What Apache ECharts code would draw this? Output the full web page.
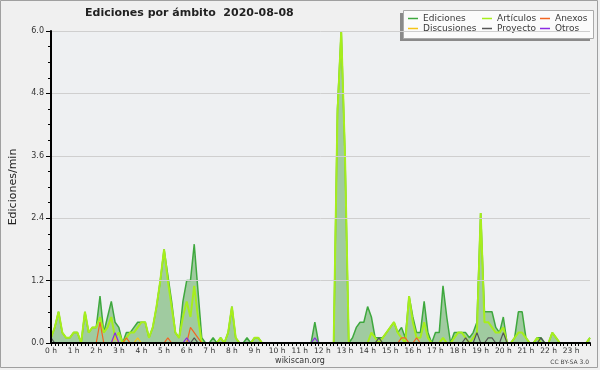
<!DOCTYPE html>
<html><head><meta charset="utf-8">
<script src="https://cdn.jsdelivr.net/npm/echarts@6/dist/echarts.min.js"></script>
<style>html,body{margin:0;padding:0;background:#f0f0f0;}#c{width:600px;height:370px;}</style>
</head><body><div id="c"></div>
<script>
// hour tick labels (one every 6 ten-minute slots)
const hourLabels = ['0 h','1 h','2 h','3 h','4 h','5 h','6 h','7 h','8 h','9 h','10 h','11 h',
  '12 h','13 h','14 h','15 h','16 h','17 h','18 h','19 h','20 h','21 h','22 h','23 h'];
const yTicks = [0, 1.2, 2.4, 3.6, 4.8, 6.0];

// edits per minute, 10-minute slots (144 per day)
const ediciones = [
  0.1,0.3,0.6,0.2,0.1,0.1,0.2,0.2,0,0.6,0.2,0.3,
  0.3,0.9,0.2,0.5,0.8,0.4,0.3,0,0.2,0.2,0.3,0.4,
  0.4,0.4,0.1,0.3,0.7,1.2,1.8,1.3,0.8,0.2,0.1,0.8,
  1.2,1.2,1.9,1.0,0.1,0,0,0.1,0,0.1,0,0.2,
  0.7,0.1,0,0,0.1,0,0.1,0.1,0,0,0,0,
  0,0,0,0,0,0,0,0,0,0,0.4,0,
  0,0,0,0,4.5,6.0,3.6,0,0.1,0.3,0.4,0.4,
  0.7,0.5,0.1,0.1,0.1,0.2,0.3,0.4,0.2,0.3,0.1,0.9,
  0.5,0.2,0.2,0.8,0.2,0,0.2,0.2,1.1,0.5,0,0.2,
  0.2,0.2,0.2,0.1,0.2,0.4,2.5,0.6,0.6,0.6,0.3,0.2,
  0.5,0,0,0.1,0.6,0.6,0.1,0,0,0.1,0.1,0,
  0,0.2,0.1,0,0,0,0,0,0,0,0,0.1
];
const articulos = [
  0.1,0.3,0.6,0.2,0.1,0.1,0.2,0.2,0,0.6,0.2,0.3,
  0.3,0.5,0.2,0.3,0.5,0.1,0.2,0,0.1,0.2,0.2,0.3,
  0.4,0.4,0.1,0.3,0.7,1.2,1.8,1.2,0.7,0.2,0.1,0.5,
  0.8,0.5,1.1,0.5,0,0,0,0,0,0.1,0,0.2,
  0.7,0.1,0,0,0,0,0.1,0.1,0,0,0,0,
  0,0,0,0,0,0,0,0,0,0,0,0,
  0,0,0,0,4.4,6.0,3.6,0,0,0,0,0,
  0,0.2,0.1,0,0.1,0.2,0.3,0.4,0.2,0.1,0,0.9,
  0.4,0.1,0.1,0.4,0.1,0,0,0,0.1,0,0,0.1,
  0.2,0.2,0.1,0,0.1,0.2,2.5,0.4,0.4,0.3,0.2,0.2,
  0.3,0,0,0.1,0.2,0.2,0.1,0,0,0.1,0,0,
  0,0.2,0.1,0,0,0,0,0,0,0,0,0.1
];
const anexos = [
  0,0,0,0,0,0,0,0,0,0,0,0,
  0,0.4,0,0,0,0,0,0,0.1,0,0,0,
  0,0,0,0,0,0,0,0.1,0,0,0,0,
  0,0.3,0.2,0.1,0,0,0,0,0,0,0,0,
  0,0,0,0,0,0,0,0,0,0,0,0,
  0,0,0,0,0,0,0,0,0,0,0,0,
  0,0,0,0,0,0,0,0,0,0,0,0,
  0,0,0,0,0,0,0,0,0,0.1,0.1,0,
  0,0.1,0,0,0,0,0,0,0,0,0,0,
  0,0,0,0,0,0,0,0,0,0,0,0,
  0,0,0,0,0,0,0,0,0,0,0,0,
  0,0,0,0,0,0,0,0,0,0,0,0
];
const discusiones = [
  0,0,0,0,0,0,0,0,0,0,0,0,
  0,0,0,0,0,0.1,0,0,0,0,0,0.1,
  0,0,0,0,0,0,0,0,0,0,0,0,
  0,0,0,0,0,0,0,0,0,0,0,0,
  0,0,0,0,0,0,0,0,0,0,0,0,
  0,0,0,0,0,0,0,0,0,0,0,0,
  0,0,0,0,0,0,0,0,0,0,0,0,
  0,0,0,0,0,0,0,0,0,0,0,0,
  0,0,0,0,0,0,0,0,0,0,0,0,
  0,0,0,0,0,0,0,0,0,0,0,0,
  0,0,0,0,0,0,0,0,0,0,0,0,
  0,0,0,0,0,0,0,0,0,0,0,0
];
const proyecto = [
  0.1,0,0,0,0,0,0,0,0,0,0,0,
  0,0,0,0,0,0,0,0,0,0,0,0,
  0,0,0,0,0,0,0,0,0,0,0,0,
  0,0,0.1,0,0,0,0,0,0,0,0,0,
  0,0,0,0,0,0,0,0,0,0,0,0,
  0,0,0,0,0,0,0,0,0,0,0,0,
  0,0,0,0,0,0,0,0,0,0,0,0,
  0,0,0,0.1,0,0,0,0,0,0,0,0,
  0,0,0,0,0,0,0,0,0,0,0,0,
  0,0,0.1,0,0,0.2,0,0,0.1,0.1,0,0,
  0.2,0,0,0,0,0,0,0,0,0,0.1,0,
  0,0,0,0,0,0,0,0,0,0,0,0
];
const otros = [
  0,0,0,0,0,0,0,0,0,0,0,0,
  0,0,0,0,0,0.2,0,0,0,0,0,0,
  0,0,0,0,0,0,0,0,0,0,0,0,
  0.1,0,0,0,0,0,0,0,0,0,0,0,
  0,0,0,0,0,0,0,0,0,0,0,0,
  0,0,0,0,0,0,0,0,0,0,0.1,0,
  0,0,0,0,0,0,0,0,0,0,0,0,
  0,0,0,0,0,0,0,0,0,0,0,0,
  0,0,0,0,0,0,0,0,0,0,0,0,
  0,0,0,0,0,0,0,0,0,0,0,0,
  0,0,0,0,0,0,0,0,0,0,0,0,
  0,0,0,0,0,0,0,0,0,0,0,0
];

const categories = [];
for (let h = 0; h < 24; h++) for (let m = 0; m < 60; m += 10)
  categories.push(String(h).padStart(2,'0') + ':' + String(m).padStart(2,'0'));

const F = 'DejaVu Sans';
function mk(name, data, color, width, z, area) {
  const s = { name, type: 'line', data, color, symbol: 'none', z,
    lineStyle: { color, width }, animation: false, silent: true };
  if (area) s.areaStyle = { color: area, opacity: 1 };
  return s;
}
function leg(name, left, top) {
  return { data: [name], left, top, icon: 'rect', itemWidth: 10, itemHeight: 1.5,
    padding: 0, itemGap: 0, selectedMode: false,
    textStyle: { fontFamily: F, fontSize: 9, color: '#3a3a3a' } };
}
const chart = echarts.init(document.getElementById('c'), null, { renderer: 'canvas' });
chart.setOption({
  backgroundColor: '#f0f0f0',
  animation: false,
  grid: { left: 46, right: 10, top: 31, bottom: 27, show: true,
    backgroundColor: '#eef0f2', borderWidth: 0 },
  legend: [
    leg('Ediciones', 408, 14), leg('Artículos', 482, 14), leg('Anexos', 540, 14),
    leg('Discusiones', 408, 24), leg('Proyecto', 482, 24), leg('Otros', 540, 24)
  ],
  xAxis: {
    type: 'category', data: categories, boundaryGap: false, z: 10,
    axisLine: { lineStyle: { color: '#000', width: 2 } },
    axisTick: { interval: 0, length: 3, lineStyle: { color: '#000' } },
    axisLabel: { interval: (i) => i % 6 === 0, margin: 4,
      formatter: (v, i) => hourLabels[i / 6],
      fontFamily: F, fontSize: 7.5, color: '#333' },
    splitLine: { show: false }
  },
  yAxis: {
    type: 'value', min: yTicks[0], max: yTicks[yTicks.length - 1], interval: 1.2, z: 10,
    name: 'Ediciones/min', nameLocation: 'middle', nameGap: 32, nameRotate: 90,
    nameTextStyle: { fontFamily: F, fontSize: 11, color: '#222' },
    axisLine: { show: true, lineStyle: { color: '#000', width: 2 } },
    axisTick: { show: true, length: 5, lineStyle: { color: '#000' } },
    minorTick: { show: true, splitNumber: 4, length: 3, lineStyle: { color: '#000' } },
    axisLabel: { formatter: (v) => v.toFixed(1), margin: 7,
      fontFamily: F, fontSize: 8, color: '#333' },
    splitLine: { show: true, lineStyle: { color: '#cfcfcf', width: 1 } }
  },
  series: [
    mk('Ediciones', ediciones, '#3ea83e', 1.5, 2, '#a0cba0'),
    mk('Artículos', articulos, '#a6ee1c', 2, 3),
    mk('Anexos', anexos, '#f26522', 1.2, 4),
    mk('Discusiones', discusiones, '#f5c518', 1.2, 4),
    mk('Proyecto', proyecto, '#555555', 1.2, 4),
    mk('Otros', otros, '#8b2be2', 1.2, 4)
  ],
  graphic: [
    { type: 'rect', z: -1, shape: { x: 0.5, y: 0.5, width: 597, height: 367 },
      style: { fill: 'none', stroke: '#a0a0a0', lineWidth: 1 } },
    { type: 'rect', z: 0, shape: { x: 400, y: 13, width: 190, height: 28 },
      style: { fill: '#8a8a8a' } },
    { type: 'rect', z: 1, shape: { x: 403.5, y: 10.5, width: 190, height: 28 },
      style: { fill: '#fbfbfb', stroke: '#aaaaaa', lineWidth: 1 } },
    { type: 'text', z: 5, left: 85, top: 8,
      style: { text: 'Ediciones por ámbito  2020-08-08', fontFamily: F, fontSize: 11,
        fontWeight: 'bold', fill: '#222' } },
    { type: 'text', z: 5, left: 'center', top: 357,
      style: { text: 'wikiscan.org', fontFamily: F, fontSize: 8, fill: '#333' } },
    { type: 'text', z: 5, right: 11, top: 359,
      style: { text: 'CC BY-SA 3.0', fontFamily: F, fontSize: 6, fill: '#444' } }
  ]
});
</script></body></html>
